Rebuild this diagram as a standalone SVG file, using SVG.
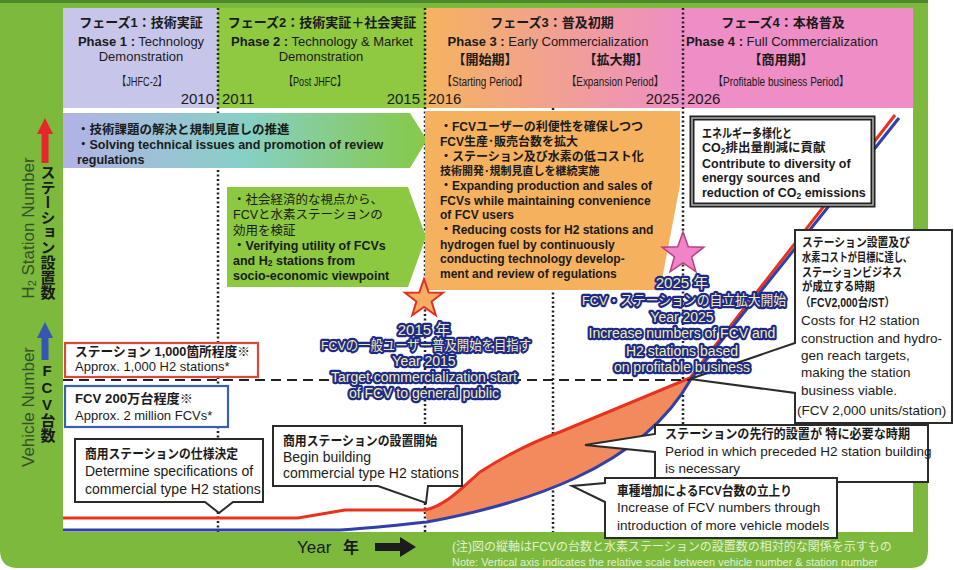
<svg xmlns="http://www.w3.org/2000/svg" width="954" height="570" viewBox="0 0 954 570">
<defs>
<linearGradient id="gArrow" x1="0" x2="1" y1="0" y2="0">
 <stop offset="0" stop-color="#b3b2e6"/>
 <stop offset="0.5" stop-color="#86d0c6"/>
 <stop offset="1" stop-color="#86c946"/>
</linearGradient>
<linearGradient id="gP3" x1="0" x2="1" y1="0" y2="0">
 <stop offset="0" stop-color="#f5b35e"/>
 <stop offset="1" stop-color="#ee8ec6"/>
</linearGradient>
<style>
text{font-family:'Liberation Sans','Noto Sans CJK JP',sans-serif;fill:#1a1a1a}
.h{font-size:13px}
.b{font-weight:bold}
.c{text-anchor:middle}
.e{text-anchor:end}
.yr{font-size:15px}
.br{font-size:12px}
.dot{stroke:#222;stroke-width:2.5;stroke-dasharray:2 2.5;fill:none}
.box{fill:#fff;stroke:#2b2b2b;stroke-width:2}
.bt{font-size:12.5px;font-weight:bold}
.ot{font-size:12px;font-weight:bold}
.ct{font-size:13.5px}
.cj{font-size:13px;font-weight:bold}
.cs{font-size:12px;font-weight:bold}
.glow{font-size:14px;fill:#f4eda6;stroke:#1c2a8c;stroke-width:4.5;stroke-linejoin:round;paint-order:stroke;text-anchor:middle}
.gj{font-size:13.5px}
.axis{font-size:17px;fill:#35502a;text-anchor:middle}
.vt{writing-mode:vertical-rl;text-orientation:upright;font-size:15px;font-weight:bold}
.note{fill:#e2efd2}
</style>
</defs>

<g id="frame">
<path d="M0,0 H928 V550 Q928,568 910,568 H18 Q0,568 0,550 Z" fill="#7cb93d"/>
<rect x="0" y="0" width="928" height="3" fill="#4a8a2c"/>
<rect x="63" y="108" width="850" height="424" fill="#fff"/>
</g>

<g id="header">
<rect x="63" y="8" width="155" height="100" fill="#c7c6ea"/>
<rect x="218" y="8" width="207" height="100" fill="#8ec940"/>
<rect x="425" y="8" width="258" height="100" fill="url(#gP3)"/>
<rect x="683" y="8" width="230" height="100" fill="#ee8dc6"/>
</g>

<g id="phase1">
<text x="141" y="27" class="h b c">フェーズ1：技術実証</text>
<text x="141" y="46" class="h c"><tspan class="b">Phase 1 :</tspan> Technology</text>
<text x="141" y="61" class="h c">Demonstration</text>
<text x="142" y="86" class="br c" textLength="50" lengthAdjust="spacingAndGlyphs">【JHFC-2】</text>
<text x="214" y="104" class="yr e">2010</text>
</g>

<g id="phase2">
<text x="322" y="27" class="h b c">フェーズ2：技術実証＋社会実証</text>
<text x="322" y="46" class="h c"><tspan class="b">Phase 2 :</tspan> Technology &amp; Market</text>
<text x="321" y="61" class="h c">Demonstration</text>
<text x="315" y="86" class="br c" textLength="62" lengthAdjust="spacingAndGlyphs">【Post JHFC】</text>
<text x="222" y="104" class="yr">2011</text>
<text x="420" y="104" class="yr e">2015</text>
</g>

<g id="phase3">
<text x="552" y="27" class="h b c">フェーズ3：普及初期</text>
<text x="548" y="46" class="h c"><tspan class="b">Phase 3 :</tspan> Early Commercialization</text>
<text x="485" y="64" class="h b c">【開始期】</text>
<text x="616" y="64" class="h b c">【拡大期】</text>
<text x="485" y="86" class="br c" textLength="86" lengthAdjust="spacingAndGlyphs">【Starting Period】</text>
<text x="615" y="86" class="br c" textLength="97" lengthAdjust="spacingAndGlyphs">【Expansion Period】</text>
<text x="428" y="104" class="yr">2016</text>
<text x="679" y="104" class="yr e">2025</text>
</g>

<g id="phase4">
<text x="783" y="27" class="h b c">フェーズ4：本格普及</text>
<text x="782" y="46" class="h c"><tspan class="b">Phase 4 :</tspan> Full Commercialization</text>
<text x="781" y="64" class="h b c">【商用期】</text>
<text x="781" y="86" class="br c" textLength="136" lengthAdjust="spacingAndGlyphs">【Profitable business Period】</text>
<text x="687" y="104" class="yr">2026</text>
</g>

<g id="gridlines">
<line class="dot" x1="218" y1="8" x2="218" y2="532"/>
<line class="dot" x1="425" y1="8" x2="425" y2="532"/>
<line class="dot" x1="553" y1="108" x2="553" y2="532"/>
<line class="dot" x1="683" y1="8" x2="683" y2="532"/>
</g>

<g id="axis">
<text class="axis" transform="translate(34,228) rotate(-90)">H<tspan font-size="11" dy="2">2</tspan><tspan dy="-2"> Station Number</tspan></text>
<text class="axis" transform="translate(34,407) rotate(-90)">Vehicle  Number</text>
<path d="M45,118 L53,134 L48.5,134 L48.5,163 L41.5,163 L41.5,134 L37,134 Z" fill="#e5262a"/>
<path d="M45,322 L53,338 L48.5,338 L48.5,360 L41.5,360 L41.5,338 L37,338 Z" fill="#3656b4"/>
<text x="47" y="165" class="vt">ステーション設置数</text>
<text x="47" y="362" class="vt">FCV台数</text>
</g>

<g id="connectors">
<path d="M425,510 C445,506 462,488 480,472 C505,456 530,443 560,432 L690,378 C640,470 520,505 427,522 Z" fill="#f38a5e"/>
<path d="M63,518 L298,518 L345,510 L425,510 C445,506 462,488 480,472 C505,456 530,443 560,432 L690,378 L895,115" fill="none" stroke="#e8321e" stroke-width="3"/>
<path d="M63,530 L340,530 C375,528 400,525 427,522 C520,505 640,470 691,379 L899,118" fill="none" stroke="#3040a8" stroke-width="3"/>
<line x1="63" y1="380" x2="690" y2="380" stroke="#222" stroke-width="2.2" stroke-dasharray="10 6"/>
</g>

<g id="arrow-tech">
<path d="M63,113 H410 L427,140 L410,168 H63 Z" fill="url(#gArrow)"/>
<text x="77" y="134" class="bt">・技術課題の解決と規制見直しの推進</text>
<text x="77" y="149" class="bt">・Solving technical issues and promotion of review</text>
<text x="77" y="164" class="bt">regulations</text>
</g>

<g id="arrow-socio">
<path d="M227,187 H408 L426,237 L408,287 H227 Z" fill="#8cc840"/>
<text x="233" y="204" style="font-size:12.5px">・社会経済的な視点から、</text>
<text x="233" y="219" style="font-size:12.5px">FCVと水素ステーションの</text>
<text x="233" y="234.5" style="font-size:12.5px">効用を検証</text>
<text x="233" y="250" class="bt">・Verifying utility of FCVs</text>
<text x="233" y="265" class="bt">and H<tspan font-size="8.5" dy="1">2</tspan><tspan dy="-1"> stations from</tspan></text>
<text x="233" y="280" class="bt">socio-economic viewpoint</text>
</g>

<g id="arrow-commercial">
<path d="M425,111 H680 V185 L660,290 H425 Z" fill="#f5b15e"/>
<text x="440" y="131" class="ot">・FCVユーザーの利便性を確保しつつ</text>
<text x="440" y="146" class="ot">FCV生産･販売台数を拡大</text>
<text x="440" y="160.5" class="ot">・ステーション及び水素の低コスト化</text>
<text x="440" y="175" class="ot" style="font-size:11px">技術開発･規制見直しを継続実施</text>
<text x="440" y="190" class="ot">・Expanding  production and sales of</text>
<text x="440" y="204.5" class="ot">FCVs while maintaining convenience</text>
<text x="440" y="219" class="ot">of FCV users</text>
<text x="440" y="234" class="ot">・Reducing costs for H2 stations and</text>
<text x="440" y="248.5" class="ot">hydrogen fuel by continuously</text>
<text x="440" y="263" class="ot">conducting technology develop-</text>
<text x="440" y="278" class="ot">ment and review of regulations</text>
</g>

<g id="box-energy">
<rect x="692" y="118" width="181" height="87" fill="#fff" stroke="#222" stroke-width="5"/>
<rect x="692" y="118" width="181" height="87" fill="none" stroke="#a8a8a8" stroke-width="1.6"/>
<text x="702" y="137.5" class="bt" textLength="90" lengthAdjust="spacingAndGlyphs">エネルギー多様化と</text>
<text x="702" y="152" class="bt">CO<tspan font-size="8.5" dy="2">2</tspan><tspan dy="-2">排出量削減に貢献</tspan></text>
<text x="702" y="167.5" class="bt">Contribute to diversity of</text>
<text x="702" y="182" class="bt">energy sources and</text>
<text x="702" y="196.5" class="bt">reduction of CO<tspan font-size="8.5" dy="2">2</tspan><tspan dy="-2"> emissions</tspan></text>
</g>

<g id="box-1000">
<rect x="65" y="343" width="193" height="34" fill="#fff" stroke="#d9483b" stroke-width="2.2"/>
<text x="75" y="355.5" class="cj" textLength="175" lengthAdjust="spacingAndGlyphs">ステーション 1,000箇所程度※</text>
<text x="75" y="371" style="font-size:13px">Approx. 1,000 H2 stations*</text>
</g>

<g id="box-2m">
<rect x="65" y="386" width="163" height="41" fill="#fff" stroke="#3a5fb0" stroke-width="2.2"/>
<text x="75" y="402.5" class="cj" textLength="118" lengthAdjust="spacingAndGlyphs">FCV 200万台程度※</text>
<text x="75" y="419.5" style="font-size:13px">Approx. 2 million FCVs*</text>
</g>

<g id="callout-spec">
<path class="box" d="M75,439 H263 V502 H233 L219,513 L205,502 H75 Z"/>
<text x="85" y="457.5" class="cj" textLength="153" lengthAdjust="spacingAndGlyphs">商用ステーションの仕様決定</text>
<text x="85" y="475.5" style="font-size:14px">Determine specifications of</text>
<text x="85" y="493.5" style="font-size:14px">commercial type H2 stations</text>
</g>

<g id="callout-begin">
<path class="box" d="M273,426 H462 V486 H428 L426,503 L378,486 H273 Z"/>
<text x="283" y="444.5" class="cj" textLength="154" lengthAdjust="spacingAndGlyphs">商用ステーションの設置開始</text>
<text x="283" y="461.5" style="font-size:14px">Begin building</text>
<text x="283" y="477.5" style="font-size:14px">commercial type H2 stations</text>
</g>

<g id="callout-preceded">
<path class="box" d="M655,425 H928 V482 H655 V452 L585,445 L655,434 Z"/>
<text x="665" y="438" class="cj" textLength="245" lengthAdjust="spacingAndGlyphs">ステーションの先行的設置が 特に必要な時期</text>
<text x="665" y="455.5" class="ct">Period in which preceded H2 station building</text>
<text x="665" y="473" class="ct">is necessary</text>
</g>

<g id="callout-models">
<path class="box" d="M605,478 H837 V538 H605 V502 L572,486 L605,483 Z"/>
<text x="617" y="494.5" class="cj" textLength="175" lengthAdjust="spacingAndGlyphs">車種増加によるFCV台数の立上り</text>
<text x="617" y="511.5" class="ct">Increase of FCV numbers through</text>
<text x="617" y="529.5" class="ct">introduction of more vehicle models</text>
</g>

<g id="callout-viable">
<path class="box" d="M795,230 H952 V423 H795 V393 L690,379 L795,343 Z"/>
<text x="802" y="246.5" class="cs" textLength="108" lengthAdjust="spacingAndGlyphs">ステーション設置及び</text>
<text x="802" y="261.5" class="cs" textLength="110" lengthAdjust="spacingAndGlyphs">水素コストが目標に達し、</text>
<text x="802" y="276.5" class="cs" textLength="100" lengthAdjust="spacingAndGlyphs">ステーションビジネス</text>
<text x="802" y="290.5" class="cs" textLength="73" lengthAdjust="spacingAndGlyphs">が成立する時期</text>
<text x="800" y="306.5" class="cs" textLength="95" lengthAdjust="spacingAndGlyphs">（FCV2,000台/ST）</text>
<text x="801" y="325" class="ct">Costs for H2 station</text>
<text x="801" y="343" class="ct">construction and hydro-</text>
<text x="801" y="360" class="ct">gen reach targets,</text>
<text x="801" y="377" class="ct">making the station</text>
<text x="801" y="395" class="ct">business viable.</text>
<text x="797" y="415" class="ct">(FCV 2,000 units/station)</text>
</g>

<g id="milestone-2015">
<polygon points="424,279 428.7,292.5 443,292.8 431.6,301.5 435.8,315.2 424,307 412.2,315.2 416.4,301.5 405,292.8 419.3,292.5" fill="#f7ad63" stroke="#e0301e" stroke-width="2"/>
<text x="424" y="335" class="glow" style="font-size:15px">2015 年</text>
<text x="426" y="350" class="glow gj" textLength="210" lengthAdjust="spacingAndGlyphs">FCVの一般ユーザー普及開始を目指す</text>
<text x="424" y="366" class="glow">Year 2015</text>
<text x="424" y="382" class="glow">Target commercialization start</text>
<text x="424" y="398" class="glow">of FCV to general public</text>
</g>

<g id="milestone-2025">
<polygon points="683,232 688.3,246.7 703.9,247.2 691.6,256.8 695.9,271.8 683,263 670.1,271.8 674.4,256.8 662.1,247.2 677.7,246.7" fill="#f183c8" stroke="#b8407f" stroke-width="1.5"/>
<text x="682" y="288" class="glow" style="font-size:15px">2025 年</text>
<text x="684" y="305" class="glow gj" textLength="204" lengthAdjust="spacingAndGlyphs">FCV・ステーションの自立拡大開始</text>
<text x="682" y="322" class="glow">Year 2025</text>
<text x="682" y="338" class="glow">Increase numbers of FCV and</text>
<text x="682" y="356" class="glow">H2 stations based</text>
<text x="682" y="372" class="glow">on profitable business</text>
</g>

<g id="year-axis">
<text x="297" y="553" style="font-size:17px">Year</text>
<text x="343" y="553" style="font-size:16px;font-weight:bold">年</text>
<path d="M375,543 H400 V537 L416,547 L400,557 V551 H375 Z" fill="#1c1c1c"/>
</g>

<g id="note">
<text x="452" y="551" class="note" style="font-size:12px">(注)図の縦軸はFCVの台数と水素ステーションの設置数の相対的な関係を示すもの</text>
<text x="452" y="566" class="note" style="font-size:10px" textLength="426" lengthAdjust="spacingAndGlyphs">Note: Vertical axis indicates the relative scale between vehicle number &amp; station number</text>
</g>
</svg>
